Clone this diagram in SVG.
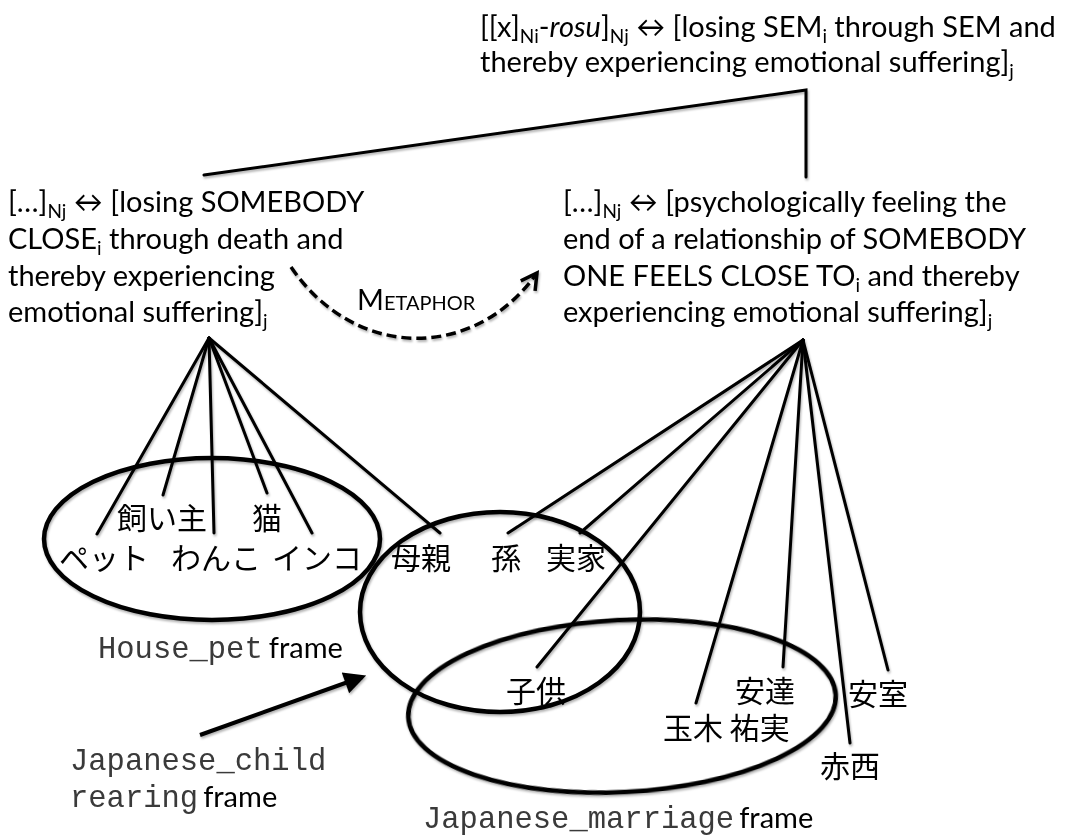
<svg xmlns="http://www.w3.org/2000/svg" width="1073" height="837" viewBox="0 0 1073 837">
  <style>
    .t { font-family: "Lato", "Liberation Sans", sans-serif; font-size: 29px; fill: #000; }
    .sub { font-size: 19px; }
    .mono { font-family: "Liberation Mono", "Courier New", monospace; font-size: 30.5px; fill: #3a3a3a; }
    .fr { font-family: "Lato", "Liberation Sans", sans-serif; font-size: 29px; fill: #000; }
    .jp { font-family: "Noto Sans CJK JP", "Noto Sans CJK SC", sans-serif; font-size: 30px; fill: #000; }
    .ln { stroke: #000; stroke-width: 3; fill: none; stroke-linecap: round; }
    .frame { stroke: #000; stroke-width: 4.5; fill: none; }
  </style>
  <defs>
    <filter id="shadow" x="-10%" y="-10%" width="120%" height="130%">
      <feDropShadow dx="1" dy="2" stdDeviation="1.2" flood-color="#000" flood-opacity="0.3"/>
    </filter>
    <marker id="open" viewBox="0 0 12 12" refX="10" refY="6" markerWidth="6" markerHeight="6" orient="auto" markerUnits="strokeWidth">
      <path d="M1,1 L10,6 L1,11" fill="none" stroke="#000" stroke-width="2"/>
    </marker>
    <marker id="solid" viewBox="0 0 10 10" refX="8" refY="5" markerWidth="6" markerHeight="5.5" orient="auto" markerUnits="strokeWidth">
      <path d="M0,0 L10,5 L0,10 z" fill="#000"/>
    </marker>
  </defs>

  <!-- frame ellipses -->
  <g id="frames" filter="url(#shadow)">
    <ellipse id="house-pet" class="frame" cx="212" cy="539" rx="168" ry="81"/>
    <ellipse id="child-rearing" class="frame" cx="500" cy="612" rx="140" ry="100"/>
    <ellipse id="marriage" class="frame" cx="622" cy="706" rx="214" ry="86" transform="rotate(-3 622 706)"/>
  </g>

  <!-- connectors -->
  <g id="connectors" filter="url(#shadow)">
    <polyline class="ln" points="204,175 806,90 806,177"/>
    <!-- left schema to its instances -->
    <line class="ln" x1="209" y1="338" x2="97" y2="534"/>
    <line class="ln" x1="209" y1="338" x2="163" y2="495"/>
    <line class="ln" x1="209" y1="338" x2="214" y2="533"/>
    <line class="ln" x1="209" y1="338" x2="267" y2="493"/>
    <line class="ln" x1="209" y1="338" x2="312" y2="533"/>
    <line class="ln" x1="209" y1="338" x2="440" y2="533"/>
    <!-- right schema to its instances -->
    <line class="ln" x1="803" y1="340" x2="508" y2="533"/>
    <line class="ln" x1="803" y1="340" x2="580" y2="533"/>
    <line class="ln" x1="803" y1="340" x2="537" y2="667"/>
    <line class="ln" x1="803" y1="340" x2="696" y2="703"/>
    <line class="ln" x1="803" y1="340" x2="783" y2="667"/>
    <line class="ln" x1="803" y1="340" x2="850" y2="743"/>
    <line class="ln" x1="803" y1="340" x2="888" y2="670"/>
    <!-- metaphor link -->
    <path d="M291,267 C355,361 475,361 537,273" fill="none" stroke="#000" stroke-width="3.5" stroke-dasharray="10,5" marker-end="url(#open)"/>
    <!-- pointer to the child rearing frame -->
    <line x1="200" y1="735" x2="362" y2="677" stroke="#000" stroke-width="4" marker-end="url(#solid)"/>
  </g>

  <!-- top schema -->
  <g id="schema-top">
    <text class="t" x="480" y="37">[[x]<tspan class="sub" dy="6">Ni</tspan><tspan dy="-6">-</tspan><tspan font-style="italic">rosu</tspan>]<tspan class="sub" dy="6">Nj</tspan><tspan dy="-6"> ↔ [losing SEM</tspan><tspan class="sub" dy="6">i</tspan><tspan dy="-6"> through SEM and</tspan></text>
    <text class="t" x="480" y="72">thereby experiencing emotional suffering]<tspan class="sub" dy="6">j</tspan></text>
  </g>

  <!-- death schema -->
  <g id="schema-death">
    <text class="t" x="8" y="212">[…]<tspan class="sub" dy="6">Nj</tspan><tspan dy="-6"> ↔ [losing SOMEBODY</tspan></text>
    <text class="t" x="8" y="249">CLOSE<tspan class="sub" dy="6">i</tspan><tspan dy="-6"> through death and</tspan></text>
    <text class="t" x="8" y="286">thereby experiencing</text>
    <text class="t" x="8" y="322">emotional suffering]<tspan class="sub" dy="6">j</tspan></text>
  </g>

  <!-- relationship schema -->
  <g id="schema-relationship">
    <text class="t" x="563" y="212">[…]<tspan class="sub" dy="6">Nj</tspan><tspan dy="-6"> ↔ [psychologically feeling the</tspan></text>
    <text class="t" x="563" y="249">end of a relationship of SOMEBODY</text>
    <text class="t" x="563" y="286">ONE FEELS CLOSE TO<tspan class="sub" dy="6">i</tspan><tspan dy="-6"> and thereby</tspan></text>
    <text class="t" x="563" y="322">experiencing emotional suffering]<tspan class="sub" dy="6">j</tspan></text>
  </g>

  <!-- metaphor label -->
  <g id="metaphor-label">
    <text class="t" x="357" y="310" font-size="27">M<tspan font-size="20">ETAPHOR</tspan></text>
  </g>

  <!-- instances -->
  <g id="instances">
    <text class="jp" x="117" y="529">飼い主</text>
    <text class="jp" x="252" y="529">猫</text>
    <text class="jp" x="59" y="569">ペット</text>
    <text class="jp" x="171" y="569">わんこ</text>
    <text class="jp" x="272" y="569">インコ</text>
    <text class="jp" x="391" y="569">母親</text>
    <text class="jp" x="491" y="569">孫</text>
    <text class="jp" x="546" y="569">実家</text>
    <text class="jp" x="506" y="702">子供</text>
    <text class="jp" x="735" y="702">安達</text>
    <text class="jp" x="663" y="739">玉木 祐実</text>
    <text class="jp" x="848" y="705">安室</text>
    <text class="jp" x="820" y="777">赤西</text>
  </g>

  <!-- frame labels -->
  <g id="label-house-pet">
    <text x="98" y="658"><tspan class="mono">House_pet</tspan><tspan class="fr" dx="6">frame</tspan></text>
  </g>
  <g id="label-child-rearing">
    <text class="mono" x="70" y="770">Japanese_child</text>
    <text x="70" y="807"><tspan class="mono">rearing</tspan><tspan class="fr" dx="5">frame</tspan></text>
  </g>
  <g id="label-marriage">
    <text x="423" y="828"><tspan class="mono">Japanese_marriage</tspan><tspan class="fr" dx="5">frame</tspan></text>
  </g>
</svg>
